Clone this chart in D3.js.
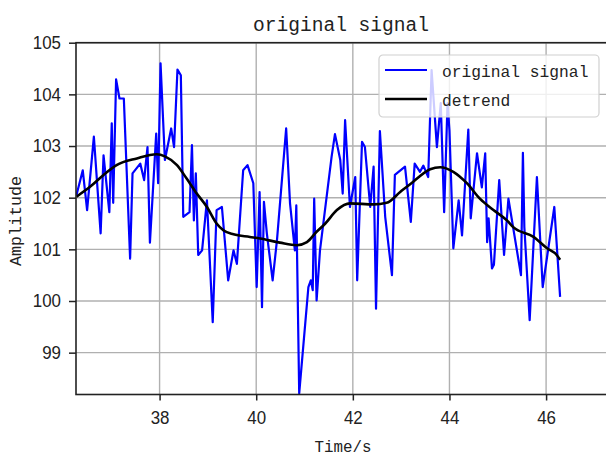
<!DOCTYPE html>
<html>
<head>
<meta charset="utf-8">
<script src="https://cdn.jsdelivr.net/npm/d3@7"></script>
<style>
  body { margin: 0; background: #fff; }
  svg { display: block; }
</style>
</head>
<body>
<div id="chart"></div>
<script>
// original signal (time in s, amplitude)
var signalTime = [36.28, 36.41, 36.50, 36.64, 36.78, 36.84, 36.96, 37.01, 37.04, 37.10,
  37.17, 37.26, 37.39, 37.44, 37.60, 37.68, 37.75, 37.80, 37.93, 37.97,
  38.02, 38.11, 38.24, 38.30, 38.37, 38.44, 38.49, 38.62, 38.67, 38.71,
  38.75, 38.80, 38.88, 38.98, 39.10, 39.18, 39.29, 39.42, 39.53, 39.60,
  39.73, 39.82, 39.94, 40.01, 40.07, 40.12, 40.16, 40.22, 40.34, 40.43,
  40.62, 40.70, 40.80, 40.83, 40.89, 41.08, 41.13, 41.17, 41.20, 41.25,
  41.32, 41.56, 41.63, 41.74, 41.79, 41.84, 41.94, 42.05, 42.09, 42.19,
  42.25, 42.36, 42.43, 42.48, 42.56, 42.67, 42.81, 42.87, 43.08, 43.20,
  43.28, 43.39, 43.46, 43.56, 43.63, 43.74, 43.82, 43.89, 43.96, 44.00,
  44.08, 44.19, 44.26, 44.39, 44.44, 44.57, 44.67, 44.74, 44.78, 44.81,
  44.88, 44.92, 45.03, 45.13, 45.22, 45.48, 45.52, 45.55, 45.66, 45.81,
  45.93, 46.17, 46.29];
var signalValue = [102.05, 102.53, 101.76, 103.18, 101.31, 102.82, 101.72, 103.44, 101.90, 104.29,
  103.92, 103.92, 100.82, 102.47, 102.66, 102.34, 102.98, 101.13, 103.24, 102.28,
  104.60, 102.73, 103.34, 102.98, 104.48, 104.37, 101.63, 101.72, 103.02, 101.56,
  102.47, 100.89, 100.98, 101.95, 99.59, 101.76, 101.82, 100.40, 100.98, 100.72,
  102.53, 102.63, 102.28, 100.27, 102.11, 99.88, 101.92, 101.31, 100.40, 101.18,
  103.34, 101.89, 100.98, 101.85, 98.21, 100.27, 100.40, 100.21, 101.98, 100.01,
  100.98, 102.79, 103.23, 102.73, 102.08, 103.50, 101.82, 102.40, 100.40, 103.08,
  102.98, 101.82, 102.60, 99.85, 103.29, 101.63, 100.50, 102.44, 102.60, 101.53,
  102.66, 102.50, 102.62, 102.40, 104.47, 102.98, 103.83, 101.72, 103.83, 103.30,
  101.02, 101.95, 101.27, 103.32, 101.60, 102.86, 102.20, 102.86, 101.14, 101.60,
  100.63, 100.70, 102.34, 100.89, 101.98, 100.50, 102.87, 101.43, 99.63, 102.40,
  100.27, 101.82, 100.08];

// detrend curve
var trendTime = [36.28, 36.56, 36.84, 37.11, 37.53, 37.94, 38.11, 38.36, 38.56, 38.77,
  38.98, 39.18, 39.32, 39.53, 39.87, 40.08, 40.49, 40.84, 41.05, 41.25,
  41.43, 41.67, 41.94, 42.43, 42.70, 42.98, 43.25, 43.60, 43.81, 44.08,
  44.36, 44.63, 44.91, 45.19, 45.32, 45.74, 46.02, 46.22, 46.29];
var trendValue = [102.02, 102.21, 102.44, 102.63, 102.76, 102.84, 102.80, 102.63, 102.37, 102.08,
  101.82, 101.50, 101.37, 101.29, 101.24, 101.21, 101.13, 101.08, 101.14, 101.34,
  101.50, 101.76, 101.89, 101.87, 101.90, 102.11, 102.31, 102.55, 102.59, 102.50,
  102.28, 101.98, 101.76, 101.56, 101.43, 101.24, 101.02, 100.89, 100.80];

var xTicks = [38, 40, 42, 44, 46];
var yTicks = [99, 100, 101, 102, 103, 104, 105];
var legendNames = ["original signal", "detrend"];
var legendColors = ["#0000ff", "#000000"];

var width = 606, height = 457;
var margin = {top: 42.7, right: -2, bottom: 62.5, left: 76};
var plotW = width - margin.left - margin.right,
    plotH = height - margin.top - margin.bottom;

var svg = d3.select("#chart").append("svg")
  .attr("width", width)
  .attr("height", height);

var x = d3.scaleLinear().domain([36.27, 47.24]).range([0, 530]);
var y = d3.scaleLinear().domain([98.19, 105]).range([plotH, 0]);

var plot = svg.append("g")
  .attr("transform", "translate(" + margin.left + "," + margin.top + ")");

plot.append("clipPath").attr("id", "clip")
  .append("rect").attr("width", plotW).attr("height", plotH);

// grid
plot.append("g").selectAll("line.gx")
  .data(xTicks).enter().append("line")
  .attr("x1", function(d){ return x(d); })
  .attr("x2", function(d){ return x(d); })
  .attr("y1", 0).attr("y2", plotH)
  .style("stroke", "#b0b0b0").style("stroke-width", 1.4);
plot.append("g").selectAll("line.gy")
  .data(yTicks).enter().append("line")
  .attr("y1", function(d){ return y(d); })
  .attr("y2", function(d){ return y(d); })
  .attr("x1", 0).attr("x2", plotW)
  .style("stroke", "#b0b0b0").style("stroke-width", 1.4);

// lines
var sig = signalTime.map(function(t, i){ return [t, signalValue[i]]; });
var trend = trendTime.map(function(t, i){ return [t, trendValue[i]]; });
var line = d3.line()
  .x(function(d){ return x(d[0]); })
  .y(function(d){ return y(d[1]); });

var lines = plot.append("g").attr("clip-path", "url(#clip)");
lines.append("path").datum(sig)
  .attr("d", line)
  .style("fill", "none")
  .style("stroke", legendColors[0])
  .style("stroke-width", 2.2)
  .style("stroke-linejoin", "round");
lines.append("path").datum(trend)
  .attr("d", d3.line().curve(d3.curveMonotoneX)
    .x(function(d){ return x(d[0]); })
    .y(function(d){ return y(d[1]); }))
  .style("fill", "none")
  .style("stroke", legendColors[1])
  .style("stroke-width", 2.6)
  .style("stroke-linejoin", "round");

// axes
var xAxis = plot.append("g")
  .attr("transform", "translate(0," + plotH + ")")
  .call(d3.axisBottom(x).tickValues(xTicks).tickSize(6).tickPadding(11).tickFormat(d3.format("d")));
var yAxis = plot.append("g")
  .call(d3.axisLeft(y).tickValues(yTicks).tickSize(7).tickPadding(8).tickFormat(d3.format("d")));

[xAxis, yAxis].forEach(function(ax){
  ax.select(".domain").remove();
  ax.selectAll(".tick line").style("stroke", "#222").style("stroke-width", 1.5);
  ax.selectAll("text")
    .style("font-family", "'Liberation Sans', Arial, sans-serif")
    .style("font-size", "18px")
    .style("fill", "#222")
    .attr("lengthAdjust", "spacingAndGlyphs")
    .attr("textLength", function(d){ return String(d).length * 9.4; });
});

// spines
plot.append("rect")
  .attr("width", plotW).attr("height", plotH)
  .style("fill", "none")
  .style("stroke", "#222")
  .style("stroke-width", 1.6);

var mono = "'Liberation Mono', 'DejaVu Sans Mono', monospace";

// title
svg.append("text")
  .attr("x", 341).attr("y", 31)
  .attr("text-anchor", "middle")
  .attr("textLength", 176)
  .attr("lengthAdjust", "spacingAndGlyphs")
  .style("font-family", mono)
  .style("font-size", "20px")
  .style("fill", "#222")
  .text("original signal");

// axis labels
svg.append("text")
  .attr("x", 343).attr("y", 452)
  .attr("text-anchor", "middle")
  .attr("textLength", 57)
  .attr("lengthAdjust", "spacingAndGlyphs")
  .style("font-family", mono)
  .style("font-size", "17px")
  .style("fill", "#222")
  .text("Time/s");

svg.append("text")
  .attr("transform", "translate(21,221) rotate(-90)")
  .attr("text-anchor", "middle")
  .attr("textLength", 90)
  .attr("lengthAdjust", "spacingAndGlyphs")
  .style("font-family", mono)
  .style("font-size", "17px")
  .style("fill", "#222")
  .text("Amplitude");

// legend
var legend = svg.append("g").attr("transform", "translate(379,55)");
legend.append("rect")
  .attr("width", 220).attr("height", 62)
  .attr("rx", 4)
  .style("fill", "#fff").style("fill-opacity", 0.8)
  .style("stroke", "#d0d0d0").style("stroke-width", 1.2);

var items = legend.selectAll("g.item")
  .data(legendNames).enter().append("g")
  .attr("transform", function(d, i){ return "translate(0," + (15 + i * 29) + ")"; });
items.append("line")
  .attr("x1", 6).attr("x2", 48)
  .style("stroke", function(d, i){ return legendColors[i]; })
  .style("stroke-width", function(d, i){ return i ? 2.6 : 2.2; });
items.append("text")
  .attr("x", 63).attr("y", 7)
  .attr("textLength", function(d){ return d.length * 9.76; })
  .attr("lengthAdjust", "spacingAndGlyphs")
  .style("font-family", mono)
  .style("font-size", "16.5px")
  .style("fill", "#222")
  .text(function(d){ return d; });
</script>
</body>
</html>
